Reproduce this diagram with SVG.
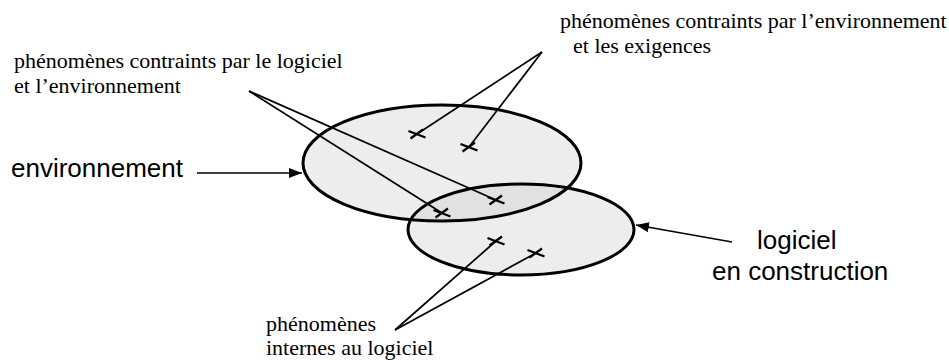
<svg xmlns="http://www.w3.org/2000/svg" width="949" height="360" viewBox="0 0 949 360">
  <defs>
    <marker id="arrow" markerUnits="userSpaceOnUse" markerWidth="14" markerHeight="12" refX="13" refY="5" orient="auto">
      <path d="M0,0 L13,5 L0,10 z" fill="#000"/>
    </marker>
    <path id="cross" d="M-8.5,-3 L8.5,3.5 M-6.5,4.5 L6,-4.5" fill="none" stroke="#000" stroke-width="2.2"/>
  </defs>
  <style>
    .fill { fill: #c8c8c8; fill-opacity: 0.32; stroke: none; }
    .outline { fill: none; stroke: #000; stroke-width: 3; }
    .leader { stroke: #000; stroke-width: 1.7; fill: none; }
    .arrow { stroke: #000; stroke-width: 1.5; fill: none; marker-end: url(#arrow); }
    .serif { font-family: "Liberation Serif", "Times New Roman", serif; font-size: 22px; fill: #000; }
    .sans { font-family: "Liberation Sans", Arial, sans-serif; font-size: 26px; fill: #000; }
  </style>

  <g id="environnement">
    <ellipse class="fill" cx="442" cy="163" rx="139" ry="58"/>
  </g>
  <g id="logiciel">
    <ellipse class="fill" cx="521" cy="229.5" rx="113" ry="45.5"/>
  </g>
  <g id="outlines">
    <ellipse class="outline" cx="442" cy="163" rx="139" ry="58"/>
    <ellipse class="outline" cx="521" cy="229.5" rx="113" ry="45.5"/>
  </g>

  <g id="phenomenes">
    <use href="#cross" x="417" y="134"/>
    <use href="#cross" x="469" y="147"/>
    <use href="#cross" x="496" y="200"/>
    <use href="#cross" x="442" y="213"/>
    <use href="#cross" x="496" y="241"/>
    <use href="#cross" x="536" y="253"/>
  </g>

  <g id="connectors">
    <line class="leader" x1="249" y1="91" x2="496" y2="200"/>
    <line class="leader" x1="249" y1="91" x2="442" y2="213"/>
    <line class="leader" x1="542" y1="52" x2="417" y2="134"/>
    <line class="leader" x1="542" y1="52" x2="469" y2="147"/>
    <line class="leader" x1="395" y1="330" x2="496" y2="241"/>
    <line class="leader" x1="395" y1="330" x2="536" y2="253"/>
    <line class="arrow" x1="197" y1="173" x2="302" y2="173"/>
    <line class="arrow" x1="732" y1="242" x2="636" y2="225"/>
  </g>

  <g id="label-logiciel-env">
    <text class="serif" x="14" y="68">phénomènes contraints par le logiciel</text>
    <text class="serif" x="14" y="93">et l’environnement</text>
  </g>
  <g id="label-env-exigences">
    <text class="serif" x="560" y="28">phénomènes contraints par l’environnement</text>
    <text class="serif" x="573" y="53">et les exigences</text>
  </g>
  <g id="label-internes">
    <text class="serif" x="266" y="331">phénomènes</text>
    <text class="serif" x="266" y="355">internes au logiciel</text>
  </g>
  <g id="label-environnement">
    <text class="sans" x="11" y="177">environnement</text>
  </g>
  <g id="label-logiciel">
    <text class="sans" x="757" y="249">logiciel</text>
    <text class="sans" x="712" y="280">en construction</text>
  </g>
</svg>
